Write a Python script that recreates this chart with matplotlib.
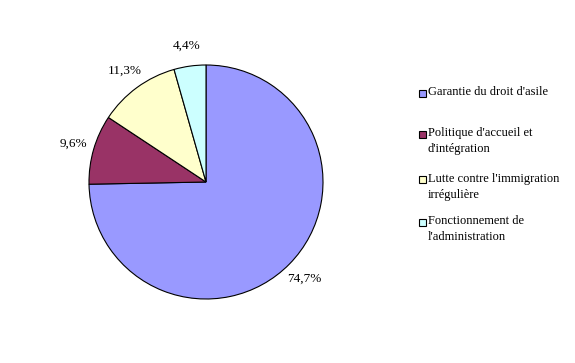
import matplotlib
matplotlib.use("Agg")
import matplotlib.pyplot as plt
from matplotlib.patches import Rectangle

categories = ["Garantie du droit d'asile", "Politique d'accueil et\nd'intégration",
              "Lutte contre l'immigration\nirrégulière", "Fonctionnement de\nl'administration"]
values = [74.7, 9.6, 11.3, 4.4]
colors = ["#9999FF", "#993366", "#FFFFCC", "#CCFFFF"]
pct_labels = [f"{v:.1f}%".replace(".", ",") for v in values]

W, H = 575, 363
fig = plt.figure(figsize=(W / 100, H / 100), dpi=100)
plt.rcParams['font.family'] = ['Liberation Serif', 'DejaVu Serif']

cx, cy, r = 206, 182, 117
ax = fig.add_axes([(cx - r) / W, (H - cy - r) / H, 2 * r / W, 2 * r / H])
wedges, texts = ax.pie(values, labels=pct_labels, colors=colors, startangle=90, counterclock=False,
                       labeldistance=1.18,
                       wedgeprops=dict(edgecolor="black", linewidth=0.8),
                       textprops=dict(fontsize=9.5, color="black"))
for t in texts:
    t.set_ha("center")
    t.set_va("center")
ax.set_xlim(-1, 1)
ax.set_ylim(-1, 1)
ax.set_aspect("equal")

leg_y = [93, 134, 180, 222]
for name, col, y in zip(categories, colors, leg_y):
    fig.patches.append(Rectangle((419 / W, 1 - (y + 3.5) / H), 7 / W, 7 / H,
                                 transform=fig.transFigure, facecolor=col, edgecolor="black",
                                 linewidth=0.8))
    fig.text(428 / W, 1 - (y - 7) / H, name, fontsize=9, va="top", ha="left",
             linespacing=1.45)

fig.savefig("out.png", dpi=100)
